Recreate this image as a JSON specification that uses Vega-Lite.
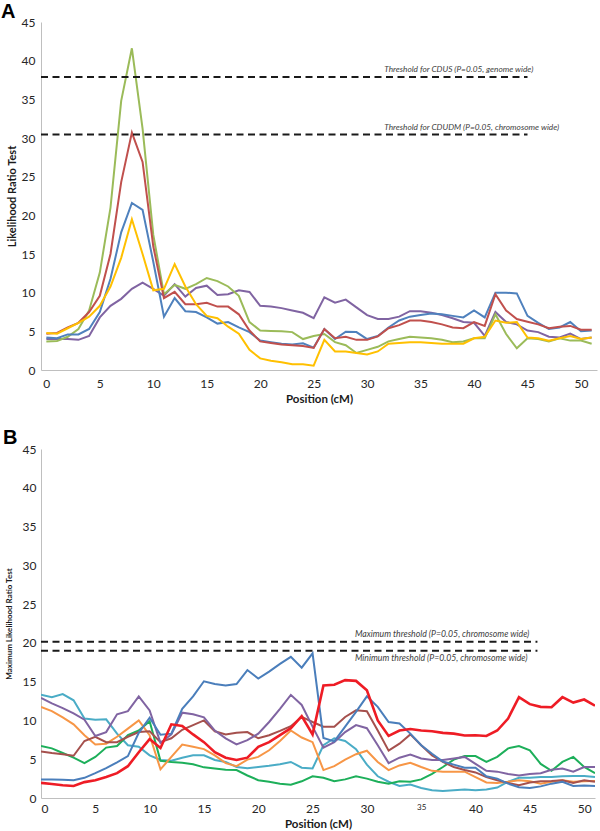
{
  "$schema": "https://vega.github.io/schema/vega-lite/v6.json",
  "padding": {"left": 1, "top": 2, "right": 2, "bottom": 0},
  "background": "white",
  "spacing": 23,
  "resolve": {"scale": {"color": "independent", "x": "independent", "y": "independent"}},
  "config": {
    "view": {"stroke": null},
    "axis": {
      "grid": false, "ticks": false, "labelOverlap": false,
      "domainColor": "#BFBFBF", "domainWidth": 1,
      "labelFont": "Lato", "labelFontSize": 12, "labelColor": "#262626",
      "titleFont": "Lato", "titleFontWeight": "bold", "titleColor": "#1a1a1a"
    }
  },
  "datasets": {
    "a": [
      {"pos":0,"blue":4.2,"red":4.7,"green":3.7,"purple":4.0,"yellow":4.8},
      {"pos":1,"blue":4.1,"red":4.8,"green":3.75,"purple":4.0,"yellow":4.7},
      {"pos":2,"blue":4.6,"red":5.5,"green":4.3,"purple":4.0,"yellow":5.4},
      {"pos":3,"blue":4.6,"red":6.1,"green":5.3,"purple":3.9,"yellow":6.1},
      {"pos":4,"blue":5.3,"red":7.5,"green":7.7,"purple":4.4,"yellow":6.9},
      {"pos":5,"blue":7.5,"red":9.6,"green":12.6,"purple":6.8,"yellow":8.3},
      {"pos":6,"blue":11.8,"red":15.0,"green":21.0,"purple":8.3,"yellow":10.8},
      {"pos":7,"blue":17.8,"red":24.3,"green":34.8,"purple":9.2,"yellow":14.5},
      {"pos":8,"blue":21.6,"red":30.7,"green":41.6,"purple":10.5,"yellow":19.5},
      {"pos":9,"blue":20.7,"red":26.9,"green":31.2,"purple":11.3,"yellow":15.0},
      {"pos":10,"blue":14.0,"red":16.0,"green":17.5,"purple":10.5,"yellow":10.3},
      {"pos":11,"blue":6.9,"red":9.3,"green":9.8,"purple":9.6,"yellow":10.5},
      {"pos":12,"blue":9.3,"red":10.1,"green":11.0,"purple":11.1,"yellow":13.7},
      {"pos":13,"blue":7.6,"red":8.5,"green":10.5,"purple":9.5,"yellow":10.8},
      {"pos":14,"blue":7.5,"red":8.5,"green":11.1,"purple":10.6,"yellow":8.5},
      {"pos":15,"blue":6.8,"red":8.7,"green":11.9,"purple":10.9,"yellow":7.0},
      {"pos":16,"blue":6.0,"red":8.2,"green":11.5,"purple":9.7,"yellow":6.7},
      {"pos":17,"blue":6.2,"red":8.2,"green":10.8,"purple":9.8,"yellow":5.6},
      {"pos":18,"blue":5.5,"red":7.2,"green":9.6,"purple":10.3,"yellow":4.7},
      {"pos":19,"blue":4.9,"red":5.1,"green":6.2,"purple":10.1,"yellow":2.6},
      {"pos":20,"blue":3.8,"red":3.7,"green":5.1,"purple":8.3,"yellow":1.5},
      {"pos":21,"blue":3.6,"red":3.5,"green":5.05,"purple":8.2,"yellow":1.2},
      {"pos":22,"blue":3.4,"red":3.3,"green":5.0,"purple":8.0,"yellow":1.0},
      {"pos":23,"blue":3.3,"red":3.2,"green":4.9,"purple":7.7,"yellow":0.75},
      {"pos":24,"blue":3.45,"red":3.1,"green":4.0,"purple":7.4,"yellow":0.75},
      {"pos":25,"blue":2.9,"red":2.85,"green":4.4,"purple":6.7,"yellow":0.56},
      {"pos":26,"blue":5.3,"red":5.3,"green":4.65,"purple":9.4,"yellow":3.9},
      {"pos":27,"blue":4.0,"red":4.1,"green":3.6,"purple":8.7,"yellow":2.4},
      {"pos":28,"blue":4.95,"red":4.3,"green":3.2,"purple":9.1,"yellow":2.4},
      {"pos":29,"blue":4.9,"red":3.9,"green":2.2,"purple":8.1,"yellow":2.2},
      {"pos":30,"blue":4.0,"red":3.9,"green":2.6,"purple":7.1,"yellow":2.0},
      {"pos":31,"blue":4.4,"red":4.35,"green":3.0,"purple":6.6,"yellow":2.4},
      {"pos":32,"blue":5.5,"red":5.4,"green":3.7,"purple":6.6,"yellow":3.4},
      {"pos":33,"blue":6.4,"red":5.8,"green":4.0,"purple":6.9,"yellow":3.5},
      {"pos":34,"blue":6.9,"red":6.4,"green":4.3,"purple":7.6,"yellow":3.6},
      {"pos":35,"blue":7.1,"red":6.4,"green":4.2,"purple":7.6,"yellow":3.6},
      {"pos":36,"blue":7.3,"red":6.2,"green":4.1,"purple":7.4,"yellow":3.5},
      {"pos":37,"blue":7.2,"red":5.9,"green":3.9,"purple":7.1,"yellow":3.4},
      {"pos":38,"blue":7.0,"red":5.5,"green":3.6,"purple":6.7,"yellow":3.4},
      {"pos":39,"blue":6.8,"red":5.4,"green":3.7,"purple":6.2,"yellow":3.4},
      {"pos":40,"blue":7.7,"red":6.2,"green":4.1,"purple":6.1,"yellow":4.1},
      {"pos":41,"blue":6.8,"red":5.7,"green":4.1,"purple":4.4,"yellow":4.3},
      {"pos":42,"blue":10.0,"red":9.8,"green":7.2,"purple":7.5,"yellow":6.4},
      {"pos":43,"blue":10.0,"red":7.7,"green":4.65,"purple":6.2,"yellow":6.1},
      {"pos":44,"blue":9.9,"red":6.6,"green":2.8,"purple":5.9,"yellow":6.2},
      {"pos":45,"blue":7.0,"red":6.25,"green":4.1,"purple":5.1,"yellow":4.2},
      {"pos":46,"blue":6.1,"red":5.9,"green":4.0,"purple":4.9,"yellow":4.1},
      {"pos":47,"blue":5.3,"red":5.4,"green":3.7,"purple":4.3,"yellow":3.8},
      {"pos":48,"blue":5.5,"red":5.6,"green":4.1,"purple":4.2,"yellow":4.1},
      {"pos":49,"blue":6.2,"red":5.7,"green":3.8,"purple":4.7,"yellow":4.4},
      {"pos":50,"blue":5.0,"red":5.2,"green":3.8,"purple":4.0,"yellow":4.0},
      {"pos":51,"blue":5.1,"red":5.2,"green":3.4,"purple":4.2,"yellow":4.2}
    ],
    "b": [
      {"pos":0,"sb":2.4,"pu":12.9,"br":6.0,"or":11.75,"te":13.3,"gr":6.7,"rd":1.95},
      {"pos":1,"sb":2.4,"pu":12.2,"br":5.8,"or":11.2,"te":13.0,"gr":6.4,"rd":1.8},
      {"pos":2,"sb":2.35,"pu":11.6,"br":5.65,"or":10.4,"te":13.4,"gr":5.8,"rd":1.65},
      {"pos":3,"sb":2.3,"pu":10.9,"br":5.45,"or":9.5,"te":12.6,"gr":5.2,"rd":1.55},
      {"pos":4,"sb":2.6,"pu":10.1,"br":7.35,"or":8.1,"te":10.25,"gr":4.5,"rd":2.05},
      {"pos":5,"sb":3.2,"pu":8.0,"br":7.9,"or":6.9,"te":10.1,"gr":5.3,"rd":2.3},
      {"pos":6,"sb":3.85,"pu":8.5,"br":7.2,"or":7.0,"te":10.15,"gr":6.5,"rd":2.7},
      {"pos":7,"sb":4.6,"pu":10.8,"br":7.2,"or":7.9,"te":8.3,"gr":6.7,"rd":3.2},
      {"pos":8,"sb":5.4,"pu":11.2,"br":7.9,"or":8.95,"te":6.8,"gr":8.1,"rd":4.1},
      {"pos":9,"sb":8.4,"pu":13.1,"br":8.5,"or":10.0,"te":6.6,"gr":8.7,"rd":5.9},
      {"pos":10,"sb":10.35,"pu":11.3,"br":8.6,"or":8.1,"te":5.5,"gr":9.9,"rd":7.6},
      {"pos":11,"sb":8.15,"pu":7.1,"br":7.2,"or":3.7,"te":4.9,"gr":4.8,"rd":6.45},
      {"pos":12,"sb":8.3,"pu":8.2,"br":7.7,"or":5.3,"te":4.8,"gr":4.65,"rd":9.5},
      {"pos":13,"sb":11.5,"pu":11.0,"br":8.8,"or":6.9,"te":5.2,"gr":4.55,"rd":9.3},
      {"pos":14,"sb":13.1,"pu":10.8,"br":9.4,"or":6.6,"te":5.5,"gr":4.35,"rd":8.2},
      {"pos":15,"sb":15.05,"pu":10.4,"br":10.0,"or":6.3,"te":5.5,"gr":3.95,"rd":7.2},
      {"pos":16,"sb":14.7,"pu":8.7,"br":8.6,"or":5.5,"te":4.9,"gr":3.8,"rd":5.9},
      {"pos":17,"sb":14.5,"pu":7.7,"br":8.2,"or":4.5,"te":4.65,"gr":3.65,"rd":5.2},
      {"pos":18,"sb":14.7,"pu":6.9,"br":8.4,"or":4.1,"te":4.0,"gr":3.6,"rd":4.9},
      {"pos":19,"sb":16.5,"pu":7.45,"br":8.5,"or":4.95,"te":3.85,"gr":2.9,"rd":5.2},
      {"pos":20,"sb":15.4,"pu":8.3,"br":7.7,"or":5.3,"te":4.0,"gr":2.3,"rd":6.6},
      {"pos":21,"sb":16.3,"pu":9.8,"br":8.1,"or":6.15,"te":4.15,"gr":2.1,"rd":7.2},
      {"pos":22,"sb":17.3,"pu":11.5,"br":8.65,"or":7.35,"te":4.35,"gr":1.85,"rd":8.1},
      {"pos":23,"sb":18.2,"pu":13.3,"br":9.25,"or":8.7,"te":4.65,"gr":1.7,"rd":9.0},
      {"pos":24,"sb":16.8,"pu":12.0,"br":10.45,"or":7.8,"te":3.9,"gr":2.15,"rd":10.55},
      {"pos":25,"sb":18.65,"pu":9.2,"br":9.8,"or":7.2,"te":3.8,"gr":2.8,"rd":8.2},
      {"pos":26,"sb":7.75,"pu":6.5,"br":9.2,"or":3.6,"te":6.8,"gr":2.6,"rd":14.5},
      {"pos":27,"sb":7.3,"pu":7.2,"br":9.2,"or":4.1,"te":7.7,"gr":2.15,"rd":14.6},
      {"pos":28,"sb":9.2,"pu":8.5,"br":10.45,"or":4.95,"te":7.35,"gr":2.4,"rd":15.2},
      {"pos":29,"sb":11.1,"pu":9.4,"br":11.3,"or":5.65,"te":6.3,"gr":2.8,"rd":15.1},
      {"pos":30,"sb":13.1,"pu":9.0,"br":11.2,"or":6.1,"te":4.3,"gr":2.5,"rd":13.9},
      {"pos":31,"sb":11.75,"pu":6.8,"br":8.7,"or":4.65,"te":2.8,"gr":2.1,"rd":10.0},
      {"pos":32,"sb":9.8,"pu":4.5,"br":6.1,"or":3.6,"te":2.1,"gr":1.85,"rd":8.0},
      {"pos":33,"sb":9.6,"pu":5.2,"br":7.0,"or":4.2,"te":1.55,"gr":2.15,"rd":8.7},
      {"pos":34,"sb":8.3,"pu":5.6,"br":8.2,"or":4.55,"te":1.75,"gr":2.1,"rd":8.9},
      {"pos":35,"sb":6.8,"pu":5.1,"br":6.8,"or":4.0,"te":1.3,"gr":2.4,"rd":8.7},
      {"pos":36,"sb":5.7,"pu":4.9,"br":5.5,"or":3.5,"te":1.0,"gr":3.1,"rd":8.6},
      {"pos":37,"sb":4.7,"pu":4.9,"br":4.65,"or":3.4,"te":0.9,"gr":4.0,"rd":8.4},
      {"pos":38,"sb":4.3,"pu":5.1,"br":4.0,"or":3.4,"te":1.0,"gr":4.95,"rd":8.3},
      {"pos":39,"sb":3.9,"pu":5.3,"br":3.6,"or":3.4,"te":1.1,"gr":5.4,"rd":8.05},
      {"pos":40,"sb":3.9,"pu":4.4,"br":3.3,"or":2.7,"te":1.0,"gr":5.4,"rd":8.1},
      {"pos":41,"sb":2.8,"pu":3.5,"br":2.7,"or":2.0,"te":1.1,"gr":4.65,"rd":8.0},
      {"pos":42,"sb":2.5,"pu":3.4,"br":2.3,"or":1.95,"te":1.35,"gr":5.3,"rd":8.7},
      {"pos":43,"sb":1.85,"pu":3.1,"br":1.95,"or":2.1,"te":2.1,"gr":6.4,"rd":10.25},
      {"pos":44,"sb":1.4,"pu":2.9,"br":1.65,"or":2.3,"te":2.6,"gr":6.7,"rd":13.0},
      {"pos":45,"sb":1.3,"pu":3.1,"br":2.0,"or":2.15,"te":2.6,"gr":6.15,"rd":12.1},
      {"pos":46,"sb":1.5,"pu":3.2,"br":2.15,"or":1.85,"te":2.7,"gr":4.4,"rd":11.75},
      {"pos":47,"sb":1.85,"pu":3.65,"br":2.2,"or":2.1,"te":2.7,"gr":3.5,"rd":11.7},
      {"pos":48,"sb":2.1,"pu":3.8,"br":2.3,"or":2.3,"te":2.8,"gr":4.65,"rd":13.0},
      {"pos":49,"sb":1.55,"pu":3.4,"br":1.95,"or":2.1,"te":2.85,"gr":5.3,"rd":12.3},
      {"pos":50,"sb":1.6,"pu":4.0,"br":2.3,"or":2.15,"te":2.85,"gr":4.0,"rd":12.7},
      {"pos":51,"sb":1.55,"pu":4.0,"br":2.1,"or":2.2,"te":2.7,"gr":3.2,"rd":11.9}
    ],
    "athr": [
      {"from": -0.5, "to": 45.0, "lrt": 37.9},
      {"from": -0.5, "to": 45.0, "lrt": 30.45}
    ],
    "alab": [
      {"pos": 31.6, "lrt": 38.75, "label": "Threshold for CDUS (P=0.05, genome wide)"},
      {"pos": 31.6, "lrt": 31.3, "label": "Threshold for CDUDM (P=0.05, chromosome wide)"}
    ],
    "bthr": [
      {"from": 0, "to": 45.7, "lrt": 20.15},
      {"from": 0, "to": 45.7, "lrt": 19.0}
    ],
    "blab": [
      {"pos": 28.9, "lrt": 21.1, "label": "Maximum threshold (P=0.05, chromosome wide)"},
      {"pos": 28.9, "lrt": 18.0, "label": "Minimum threshold (P=0.05, chromosome wide)"}
    ]
  },
  "vconcat": [
    {
      "width": 556,
      "height": 348,
      "title": {"text": "A", "anchor": "start", "frame": "group", "dx": -40, "offset": -22, "baseline": "alphabetic", "font": "Liberation Sans", "fontSize": 20, "fontWeight": "bold", "color": "#000000"},
      "encoding": {
        "y": {"field": "lrt", "type": "quantitative", "scale": {"domain": [0, 45], "nice": false},
              "axis": {"title": "Likelihood Ratio Test", "values": [0,5,10,15,20,25,30,35,40,45], "tickCount": 10, "labelOverlap": false, "labelPadding": 6, "titlePadding": 4, "titleFontSize": 11}}
      },
      "layer": [
        {
          "data": {"name": "a"},
          "transform": [{"fold": ["purple", "green", "blue", "red", "yellow"], "as": ["series", "lrt"]}],
          "mark": {"type": "line", "strokeWidth": 2, "clip": true},
          "encoding": {
            "x": {"field": "pos", "type": "quantitative", "scale": {"domain": [-0.5, 51.5], "nice": false, "zero": false},
                  "axis": {"title": "Position (cM)", "values": [0,5,10,15,20,25,30,35,40,45,50], "labelOverlap": false, "labelPadding": 8, "titlePadding": 4, "titleFontSize": 11.5}},
            "color": {"field": "series", "type": "nominal", "legend": null,
                      "scale": {"domain": ["blue", "red", "green", "purple", "yellow"], "range": ["#4F81BD", "#C0504D", "#9BBB59", "#8064A2", "#FFC000"]}}
          }
        },
        {
          "data": {"name": "athr"},
          "mark": {"type": "rule", "strokeDash": [7, 4.5], "strokeWidth": 2, "color": "#1a1a1a"},
          "encoding": {
            "x": {"field": "from", "type": "quantitative"},
            "x2": {"field": "to"}
          }
        },
        {
          "data": {"name": "alab"},
          "mark": {"type": "text", "align": "left", "baseline": "middle", "font": "Lato", "fontStyle": "italic", "fontSize": 8.3, "color": "#404040"},
          "encoding": {
            "x": {"field": "pos", "type": "quantitative"},
            "text": {"field": "label"}
          }
        }
      ]
    },
    {
      "width": 554,
      "height": 349,
      "title": {"text": "B", "anchor": "start", "frame": "group", "dx": -38, "offset": -21, "baseline": "alphabetic", "font": "Liberation Sans", "fontSize": 20, "fontWeight": "bold", "color": "#000000"},
      "encoding": {
        "y": {"field": "lrt", "type": "quantitative", "scale": {"domain": [0, 45], "nice": false},
              "axis": {"title": "Maximum Likelihood Ratio Test", "values": [0,5,10,15,20,25,30,35,40,45], "tickCount": 10, "labelOverlap": false, "labelPadding": 5, "titlePadding": 9, "titleFontSize": 8}}
      },
      "layer": [
        {
          "data": {"name": "b"},
          "transform": [{"fold": ["te", "gr", "or", "br", "pu", "sb"], "as": ["series", "lrt"]}],
          "mark": {"type": "line", "strokeWidth": 2, "clip": true},
          "encoding": {
            "x": {"field": "pos", "type": "quantitative", "scale": {"domain": [0, 51], "nice": false, "zero": false},
                  "axis": {"title": "Position (cM)", "values": [0,5,10,15,20,25,30,35,40,45,50], "labelOverlap": false, "labelPadding": 5, "titlePadding": 4, "titleFontSize": 11.5,
                           "labelFontSize": {"condition": {"test": "datum.value === 35", "value": 8}, "value": 12}}},
            "color": {"field": "series", "type": "nominal", "legend": null,
                      "scale": {"domain": ["sb", "pu", "br", "or", "te", "gr"], "range": ["#4A7EBB", "#8064A2", "#A5504D", "#F79646", "#4AACC6", "#1DAF5A"]}}
          }
        },
        {
          "data": {"name": "b"},
          "transform": [{"fold": ["rd"], "as": ["series", "lrt"]}],
          "mark": {"type": "line", "strokeWidth": 2.6, "clip": true, "color": "#EE1C25"},
          "encoding": {
            "x": {"field": "pos", "type": "quantitative"}
          }
        },
        {
          "data": {"name": "bthr"},
          "mark": {"type": "rule", "strokeDash": [7, 4.5], "strokeWidth": 2, "color": "#1a1a1a"},
          "encoding": {
            "x": {"field": "from", "type": "quantitative"},
            "x2": {"field": "to"}
          }
        },
        {
          "data": {"name": "blab"},
          "mark": {"type": "text", "align": "left", "baseline": "middle", "font": "Lato", "fontStyle": "italic", "fontSize": 8.7, "color": "#404040"},
          "encoding": {
            "x": {"field": "pos", "type": "quantitative"},
            "text": {"field": "label"}
          }
        }
      ]
    }
  ]
}
